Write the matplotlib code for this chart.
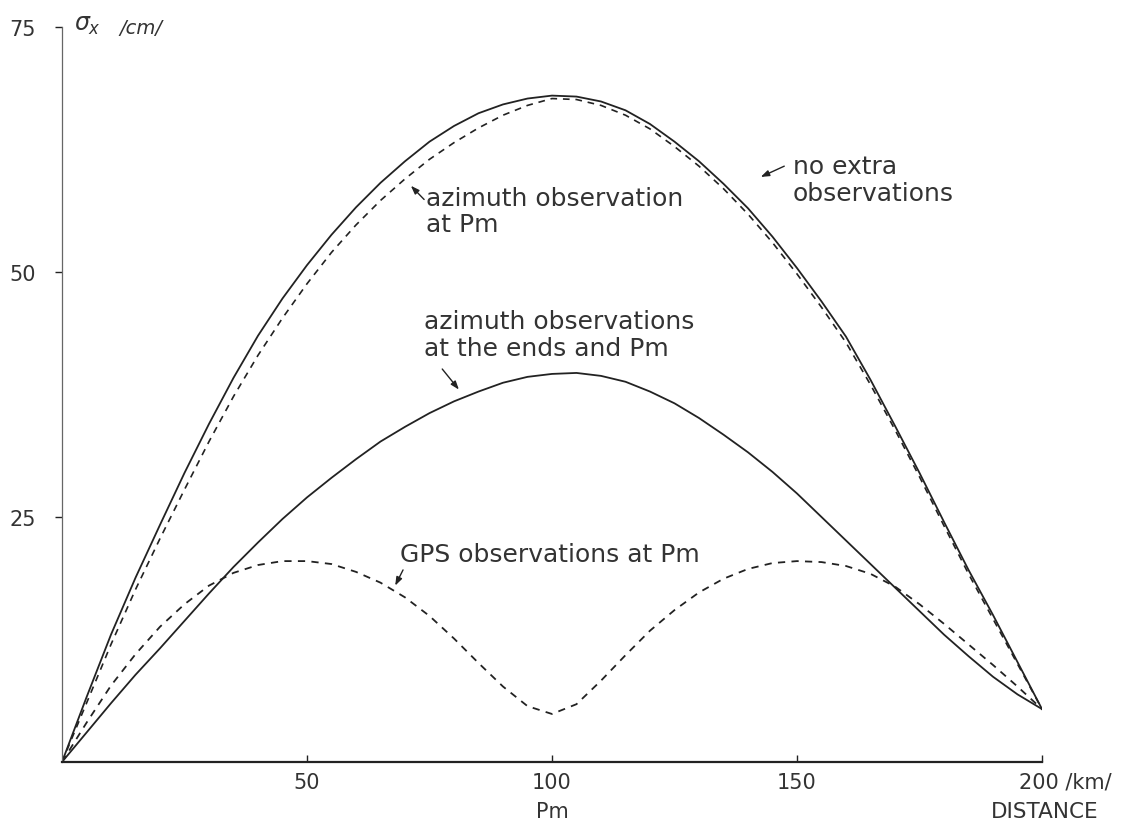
import matplotlib
matplotlib.use("Agg")
import matplotlib.pyplot as plt
import matplotlib.transforms as mtransforms

# ---- data ----
x_grid = [0, 5, 10, 15, 20, 25, 30, 35, 40, 45, 50, 55, 60, 65, 70, 75, 80, 85, 90, 95, 100,
          105, 110, 115, 120, 125, 130, 135, 140, 145, 150, 155, 160, 165, 170, 175, 180, 185, 190, 195, 200]

# no extra observations (solid)
y_none = [0, 6.6, 13.0, 18.8, 24.2, 29.5, 34.5, 39.2, 43.5, 47.3, 50.7, 53.8, 56.6, 59.1, 61.3, 63.3, 64.9, 66.2, 67.1, 67.7, 68.0,
          67.9, 67.4, 66.5, 65.1, 63.3, 61.3, 59.0, 56.5, 53.6, 50.4, 47.0, 43.4, 39.0, 34.3, 29.5, 24.5, 19.6, 15.0, 10.2, 5.4]

# azimuth observation at Pm (dashed)
y_azpm = [0, 6.0, 12.0, 17.6, 22.8, 27.8, 32.7, 37.3, 41.5, 45.3, 48.8, 52.0, 54.8, 57.3, 59.5, 61.5, 63.2, 64.7, 66.0, 67.0, 67.7,
          67.6, 67.0, 66.0, 64.6, 62.8, 60.8, 58.5, 55.9, 53.0, 49.8, 46.4, 42.8, 38.5, 33.9, 29.1, 24.1, 19.2, 14.6, 10.0, 5.4]

# azimuth observations at the ends and Pm (solid)
y_ends = [0, 3.0, 6.0, 8.9, 11.6, 14.4, 17.2, 19.9, 22.4, 24.8, 27.0, 29.0, 30.9, 32.7, 34.2, 35.6, 36.8, 37.8, 38.7, 39.3, 39.6,
          39.7, 39.4, 38.8, 37.8, 36.6, 35.1, 33.4, 31.6, 29.6, 27.4, 25.0, 22.6, 20.2, 17.8, 15.4, 13.0, 10.8, 8.7, 6.9, 5.4]

# GPS observations at Pm (dashed)
y_gps = [0, 4.0, 7.8, 11.0, 13.8, 16.1, 18.0, 19.3, 20.1, 20.5, 20.5, 20.2, 19.4, 18.3, 16.8, 14.9, 12.6, 10.1, 7.7, 5.7, 4.9,
         5.9, 8.3, 10.9, 13.4, 15.5, 17.3, 18.7, 19.7, 20.3, 20.5, 20.4, 20.0, 19.2, 17.9, 16.1, 14.1, 12.0, 9.9, 7.7, 5.4]

x_ticks = [50, 100, 150, 200]
x_ticklabels = ["50", "100", "150", "200 /km/"]
y_ticks = [25, 50, 75]
y_ticklabels = ["25", "50", "75"]

# ---- figure ----
fig = plt.figure(figsize=(11.4, 8.28), dpi=100)
ax = fig.add_axes([62/1140, 1-763/828, (1042-62)/1140, (763-28)/828])
ax.set_xlim(0, 200)
ax.set_ylim(0, 75)

ink = "#222222"
txt = "#333333"
dash = (0, (4, 3.5))

ax.plot(x_grid, y_none, color=ink, lw=1.3, solid_joinstyle="round")
ax.plot(x_grid, y_azpm, color=ink, lw=1.2, linestyle=dash)
ax.plot(x_grid, y_ends, color=ink, lw=1.3, solid_joinstyle="round")
ax.plot(x_grid, y_gps, color=ink, lw=1.3, linestyle=dash)

for s in ["top", "right"]:
    ax.spines[s].set_visible(False)
ax.spines["left"].set_color("#666666")
ax.spines["left"].set_linewidth(0.9)
ax.spines["bottom"].set_color(ink)
ax.spines["bottom"].set_linewidth(1.6)

ax.set_xticks(x_ticks)
ax.set_xticklabels(x_ticklabels)
ax.set_yticks(y_ticks)
ax.set_yticklabels(y_ticklabels)
ax.tick_params(axis="x", direction="in", length=5, width=1, colors=ink, labelcolor=txt, labelsize=15, pad=7)
ax.tick_params(axis="y", direction="out", length=5, width=1, colors=ink, labelcolor=txt, labelsize=15, pad=14)
lab200 = ax.get_xticklabels()[-1]
lab200.set_horizontalalignment("left")
lab200.set_transform(lab200.get_transform() + mtransforms.ScaledTranslation(-0.23, 0, fig.dpi_scale_trans))

# axis captions
ax.text(100, -5.0, "Pm", ha="center", va="center", fontsize=15, color=txt, clip_on=False)
ax.text(200.5, -5.0, "DISTANCE", ha="center", va="center", fontsize=15.5, color=txt, clip_on=False)
ax.text(2.5, 75.3, r"$\sigma_x$", ha="left", va="center", fontsize=17, color=txt, clip_on=False)
ax.text(11.8, 75.0, "/cm/", ha="left", va="center", fontsize=14, color=txt, style="italic", clip_on=False)

# annotations
fs = 18
ls = 1.12
ap = dict(arrowstyle="-|>,head_length=0.5,head_width=0.18", color=ink, lw=1.0, shrinkA=0, shrinkB=0)
ax.text(74.3, 58.8, "azimuth observation\nat Pm", ha="left", va="top", fontsize=fs, color=txt, linespacing=ls)
ax.annotate("", xy=(71.2, 58.8), xytext=(73.9, 57.4), arrowprops=ap)

ax.text(149.2, 62.0, "no extra\nobservations", ha="left", va="top", fontsize=fs, color=txt, linespacing=ls)
ax.annotate("", xy=(142.6, 59.7), xytext=(147.4, 60.8), arrowprops=ap)

ax.text(73.8, 46.2, "azimuth observations\nat the ends and Pm", ha="left", va="top", fontsize=fs, color=txt, linespacing=ls)
ax.annotate("", xy=(81.0, 38.0), xytext=(77.6, 40.1), arrowprops=ap)

ax.text(69.0, 21.2, "GPS observations at Pm", ha="left", va="center", fontsize=fs, color=txt)
ax.annotate("", xy=(68.0, 18.0), xytext=(69.6, 19.6), arrowprops=ap)

fig.savefig("out.png", dpi=100, facecolor="white")
